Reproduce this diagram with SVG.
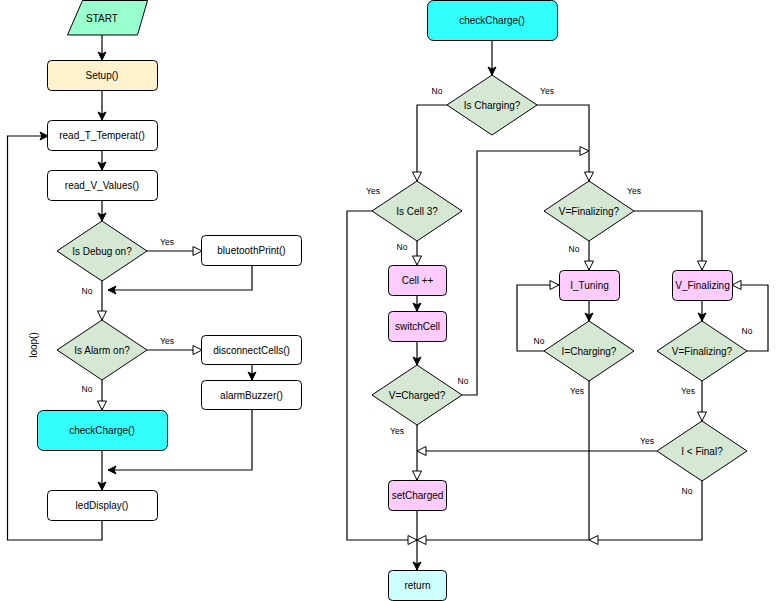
<svg xmlns="http://www.w3.org/2000/svg" width="778" height="601" viewBox="0 0 778 601">
<style>
text{font-family:"Liberation Sans",Arial,Helvetica,sans-serif;fill:#000;text-anchor:middle}
.t{font-size:10px}
.l{font-size:8.5px}
.box{stroke:#000;stroke-width:1}
.w{fill:#fff}
.d{fill:#d5e8d4;stroke:#000;stroke-width:1}
.p{fill:#ffccff}
.c{fill:#33ffff}
.e{stroke:#000;stroke-width:1.2;fill:none}
.f{marker-end:url(#fa)}
.o{marker-end:url(#oa)}
</style>
<defs>
<marker id="fa" viewBox="-9 -5 10 10" refX="0" refY="0" markerWidth="10" markerHeight="10" markerUnits="userSpaceOnUse" orient="auto">
<path d="M0,0 L-8,-4 L-6,0 L-8,4 Z" fill="#000" stroke="#000" stroke-width="1"/>
</marker>
<marker id="oa" viewBox="-11 -6 12 12" refX="0" refY="0" markerWidth="12" markerHeight="12" markerUnits="userSpaceOnUse" orient="auto">
<path d="M0,0 L-9,-4.5 L-9,4.5 Z" fill="#fff" stroke="#000" stroke-width="1"/>
</marker>
</defs>
<g id="connectors">
<path class="e f" d="M102,35 L102,60"/>
<path class="e f" d="M102,90 L102,120"/>
<path class="e f" d="M102,150 L102,170"/>
<path class="e f" d="M102,200 L102,221"/>
<path class="e o" d="M147,251 L202,251"/>
<path class="e f" d="M252,266 L252,290 L108,290"/>
<path class="e o" d="M102,281 L102,320"/>
<path class="e o" d="M147,350 L202,350"/>
<path class="e f" d="M252,365 L252,380"/>
<path class="e f" d="M252,410 L252,470 L108,470"/>
<path class="e o" d="M102,380 L102,410"/>
<path class="e f" d="M102,450 L102,490"/>
<path class="e f" d="M102,520 L102,540 L7.5,540 L7.5,136 L48,136"/>
<path class="e f" d="M492,40 L492,75"/>
<path class="e o" d="M447,105 L417,105 L417,181"/>
<path class="e o" d="M537,105 L589,105 L589,181"/>
<path class="e o" d="M372,211 L347,211 L347,540 L417,540"/>
<path class="e o" d="M417,241 L417,265"/>
<path class="e f" d="M417,295 L417,311"/>
<path class="e f" d="M417,341 L417,365"/>
<path class="e o" d="M462,395 L477,395 L477,151 L589,151"/>
<path class="e o" d="M417,425 L417,480"/>
<path class="e f" d="M417,510 L417,570"/>
<path class="e o" d="M634,211 L702,211 L702,270"/>
<path class="e o" d="M589,241 L589,270"/>
<path class="e f" d="M589,300 L589,321"/>
<path class="e o" d="M544,351 L517,351 L517,285 L559,285"/>
<path class="e o" d="M589,381 L589,540 L417,540"/>
<path class="e f" d="M702,300 L702,321"/>
<path class="e o" d="M747,351 L768,351 L768,285 L732,285"/>
<path class="e o" d="M702,381 L702,421"/>
<path class="e o" d="M657,451 L417,451"/>
<path class="e o" d="M702,481 L702,540 L589,540"/>
</g>
<g id="edge-labels">
<text class="l" x="167" y="245">Yes</text>
<text class="l" x="87" y="294">No</text>
<text class="l" x="167" y="344">Yes</text>
<text class="l" x="87" y="392">No</text>
<text class="l" x="437" y="94">No</text>
<text class="l" x="547" y="94">Yes</text>
<text class="l" x="373" y="194">Yes</text>
<text class="l" x="402" y="250">No</text>
<text class="l" x="463" y="384">No</text>
<text class="l" x="397" y="434">Yes</text>
<text class="l" x="634" y="194">Yes</text>
<text class="l" x="574" y="252">No</text>
<text class="l" x="539" y="344">No</text>
<text class="l" x="577" y="394">Yes</text>
<text class="l" x="747" y="334">No</text>
<text class="l" x="688" y="394">Yes</text>
<text class="l" x="647" y="444">Yes</text>
<text class="l" x="687" y="494">No</text>
<text class="t" transform="translate(37,345) rotate(-90)">loop()</text>
</g>
<g id="start"><polygon class="box" fill="#99ffcc" points="82.5,0.5 147.5,0.5 137.5,35 67.5,35"/><text class="t" x="102" y="22">START</text></g>
<g id="setup"><rect class="box" fill="#fff2cc" x="47.5" y="60.5" width="110" height="30" rx="4"/><text class="t" x="102" y="79">Setup()</text></g>
<g id="readT"><rect class="box w" x="47.5" y="120.5" width="110" height="30" rx="4"/><text class="t" x="102" y="139">read_T_Temperat()</text></g>
<g id="readV"><rect class="box w" x="47.5" y="170.5" width="110" height="30" rx="4"/><text class="t" x="102" y="189">read_V_Values()</text></g>
<g id="debug"><polygon class="d" points="102,221 147,251 102,281 57,251"/><text class="t" x="102" y="254.5">Is Debug on?</text></g>
<g id="bluetooth"><rect class="box w" x="201.5" y="235.5" width="100" height="30" rx="4"/><text class="t" x="251.5" y="254">bluetoothPrint()</text></g>
<g id="alarm"><polygon class="d" points="102,320 147,350 102,380 57,350"/><text class="t" x="102" y="353.5">Is Alarm on?</text></g>
<g id="disconnect"><rect class="box w" x="201.5" y="335.5" width="100" height="29" rx="4"/><text class="t" x="251.5" y="354">disconnectCells()</text></g>
<g id="buzzer"><rect class="box w" x="201.5" y="380.5" width="100" height="29" rx="4"/><text class="t" x="251.5" y="399">alarmBuzzer()</text></g>
<g id="checkChargeL"><rect class="box c" x="37.5" y="410.5" width="130" height="40" rx="6"/><text class="t" x="102" y="434">checkCharge()</text></g>
<g id="led"><rect class="box w" x="47.5" y="490.5" width="110" height="30" rx="4"/><text class="t" x="102" y="509">ledDisplay()</text></g>
<g id="checkChargeR"><rect class="box c" x="427.5" y="0.5" width="130" height="40" rx="6"/><text class="t" x="492" y="24">checkCharge()</text></g>
<g id="isCharging"><polygon class="d" points="492,75 537,105 492,135 447,105"/><text class="t" x="492" y="108.5">Is Charging?</text></g>
<g id="isCell3"><polygon class="d" points="417,181 462,211 417,241 372,211"/><text class="t" x="417" y="214.5">Is Cell 3?</text></g>
<g id="cellInc"><rect class="box p" x="388.5" y="265.5" width="58" height="30" rx="4"/><text class="t" x="417.5" y="284">Cell ++</text></g>
<g id="switchCell"><rect class="box p" x="388.5" y="311.5" width="58" height="30" rx="4"/><text class="t" x="417.5" y="330">switchCell</text></g>
<g id="vCharged"><polygon class="d" points="417,365 462,395 417,425 372,395"/><text class="t" x="417" y="398.5">V=Charged?</text></g>
<g id="setCharged"><rect class="box p" x="388.5" y="480.5" width="58" height="30" rx="4"/><text class="t" x="417.5" y="499">setCharged</text></g>
<g id="return"><rect class="box" fill="#ccffff" x="388.5" y="570.5" width="58" height="30" rx="4"/><text class="t" x="417.5" y="589">return</text></g>
<g id="vFinalizing1"><polygon class="d" points="589,181 634,211 589,241 544,211"/><text class="t" x="589" y="214.5">V=Finalizing?</text></g>
<g id="iTuning"><rect class="box p" x="559.5" y="270.5" width="60" height="30" rx="4"/><text class="t" x="589.5" y="289">I_Tuning</text></g>
<g id="vFinalizingBox"><rect class="box p" x="672.5" y="270.5" width="60" height="30" rx="4"/><text class="t" x="702.5" y="289">V_Finalizing</text></g>
<g id="iCharging"><polygon class="d" points="589,321 634,351 589,381 544,351"/><text class="t" x="589" y="354.5">I=Charging?</text></g>
<g id="vFinalizing2"><polygon class="d" points="702,321 747,351 702,381 657,351"/><text class="t" x="702" y="354.5">V=Finalizing?</text></g>
<g id="iFinal"><polygon class="d" points="702,421 747,451 702,481 657,451"/><text class="t" x="702" y="454.5">I &lt; Final?</text></g>
</svg>
